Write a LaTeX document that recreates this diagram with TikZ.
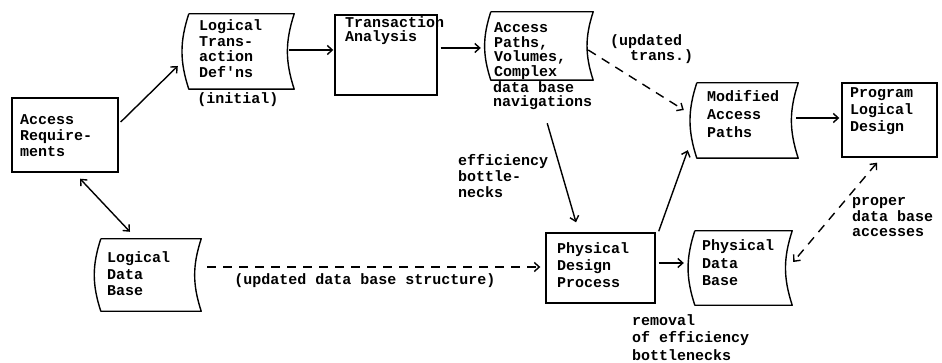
\documentclass[tikz,border=0pt]{standalone}
\usepackage{fontspec}
\newfontfamily\tw{Liberation Mono}
\usetikzlibrary{arrows.meta}
\newcommand\bx[4]{\begin{minipage}[c][#2pt][t]{#1pt}\tw\bfseries\fontsize{15}{#3}\selectfont\raggedright #4\end{minipage}}
\newcommand\storeoutline[1]{\draw[line width=1.4pt, line join=round] (#1.north west) -- (#1.north east) to[bend right=18] (#1.south east) -- (#1.south west) to[bend left=18] (#1.north west);}
\tikzset{
  box/.style={draw, line width=1.4pt, inner sep=0pt},
  store/.style={inner sep=0pt},
  lbl/.style={inner sep=0pt, align=left, font=\tw\bfseries\fontsize{15}{#1}\selectfont},
  lbl/.default=16,
  conn/.style={line width=1.4pt, -{Straight Barb[length=5pt,width=9pt]}},
  dconn/.style={conn, dash pattern=on 9pt off 7pt},
  every node/.style={font=\tw\bfseries}
}
\begin{document}
\begin{tikzpicture}[x=1pt, y=-1pt]
\useasboundingbox[fill=white] (0,0) rectangle (942,363);
% boxes
\node[box, minimum width=106pt, minimum height=74pt] (AR) at (65,135) {\bx{90}{40}{16}{Access\\Require-\\ments}};
\node[store, minimum width=105pt, minimum height=75pt] (LTD) at (241.5,51.5) {\bx{85}{63}{15.5}{Logical\\Trans-\\action\\Def'ns}};
\node[box, minimum width=102pt, minimum height=80pt] (TA) at (386,55) {\bx{82}{76}{13.5}{Transaction\\Analysis}};
\node[store, minimum width=102pt, minimum height=68pt] (AP) at (542,46) {\bx{96}{46}{14.5}{Access\\Paths,\\Volumes,\\Complex}};
\node[store, minimum width=101pt, minimum height=75pt] (MAP) at (747.5,120.5) {\bx{81}{61}{18}{Modified\\Access\\Paths}};
\node[box, minimum width=95pt, minimum height=74pt] (PLD) at (889.5,120) {\bx{79}{64}{17}{Program\\Logical\\Design}};
\node[store, minimum width=100pt, minimum height=72pt] (LDB) at (151,275) {\bx{88}{46}{16.5}{Logical\\Data\\Base}};
\node[box, minimum width=109pt, minimum height=70pt] (PDP) at (600.5,268) {\bx{87}{50}{17}{Physical\\Design\\Process}};
\node[store, minimum width=97pt, minimum height=74pt] (PDB) at (743.5,268) {\bx{83}{56}{17.5}{Physical\\Data\\Base}};
\storeoutline{LTD}
\storeoutline{AP}
\storeoutline{MAP}
\storeoutline{LDB}
\storeoutline{PDB}
% labels
\node[lbl] (init) at (238,100) {(initial)};
\node[lbl=15, anchor=west] (upd) at (610,49.5) {(updated\\\hspace*{20pt}trans.)};
\node[lbl=14, anchor=west] (APlab) at (493,96) {data base\\navigations};
\node[lbl=16, anchor=west] (eff) at (458,176) {efficiency\\bottle-\\necks};
\node[lbl=17.5, anchor=west] (rem) at (632,337.5) {removal\\of efficiency\\bottlenecks};
\node[lbl=15.5, anchor=west] (prop) at (852,217.5) {proper\\data base\\accesses};
\node[lbl] (uds) at (365,281) {(updated data base structure)};
% connectors
\draw[conn] ([shift={(2,-13)}]AR.east) -- ([shift={(-11,14.5)}]LTD.west);
\draw[conn] ([shift={(-5,-1.5)}]LTD.east) -- ([shift={(-1,-5)}]TA.west);
\draw[conn] ([shift={(3,-7)}]TA.east) -- ([shift={(-10,2)}]AP.west);
\draw[dconn] ([shift={(-5,4)}]AP.east) -- ([shift={(-13,-10.5)}]MAP.west);
\draw[conn] ([shift={(-2,-2.5)}]MAP.east) -- ([shift={(-2,-2)}]PLD.west);
\draw[dconn, {Straight Barb[length=5pt,width=9pt]}-{Straight Barb[length=5pt,width=9pt]}] ([shift={(-12.5,5)}]PLD.south) -- ([shift={(1,-6)}]PDB.east);
\draw[conn, {Straight Barb[length=5pt,width=9pt]}-{Straight Barb[length=5pt,width=9pt]}] ([shift={(15,6)}]AR.south) -- ([shift={(-21,-7)}]LDB.north);
\draw[dconn] ([shift={(6,-8)}]LDB.east) -- ([shift={(-5,-1)}]PDP.west);
\draw[conn] ([shift={(4.5,13)}]APlab.south) -- ([shift={(-24.5,-10)}]PDP.north);
\draw[conn] ([shift={(3,-1)}]PDP.north east) -- ([shift={(-9,-8)}]MAP.south west);
\draw[conn] ([shift={(3,-5)}]PDP.east) -- ([shift={(-11,-5)}]PDB.west);
\end{tikzpicture}
\end{document}
